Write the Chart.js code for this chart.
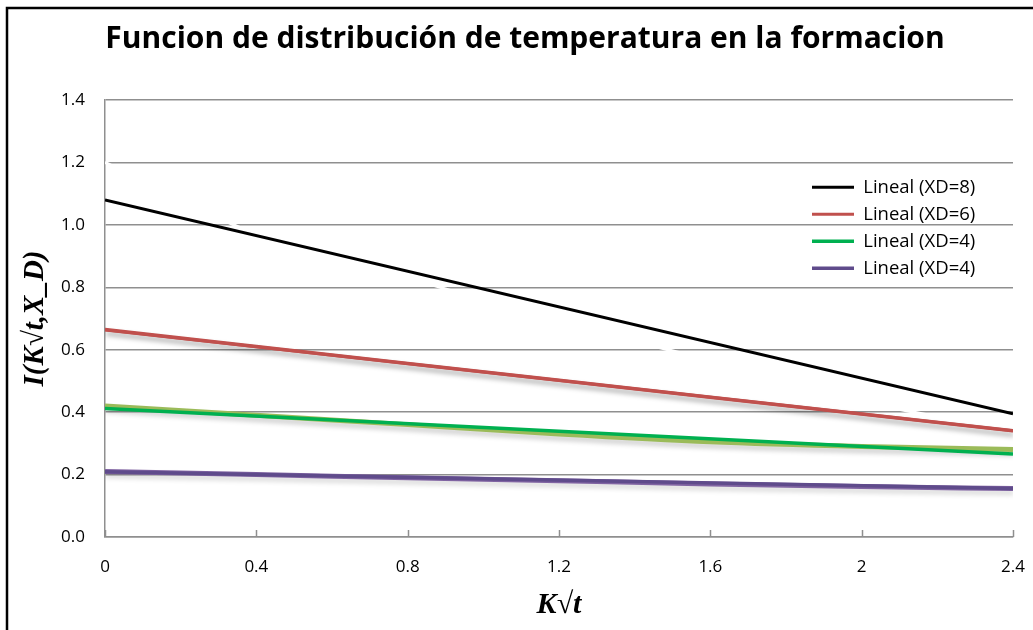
<!DOCTYPE html>
<html>
<head>
<meta charset="utf-8">
<script src="https://cdn.jsdelivr.net/npm/chart.js@4/dist/chart.umd.min.js"></script>
<style>
  html, body { margin: 0; padding: 0; background: #ffffff; }
  #wrap { width: 1033px; height: 630px; }
</style>
</head>
<body>
<div id="wrap"><canvas id="c" width="1033" height="630"></canvas></div>
<script>
// ---- data ----
const xValues = [0, 0.4, 0.8, 1.2, 1.6, 2.0, 2.4];
const xd8Data = [1.2, 0.97, 0.83, 0.69, 0.565, 0.435, 0.34];   // hidden (white) series
const xd6Data = [0.665, 0.61, 0.556, 0.502, 0.448, 0.394, 0.34];
const xd4Data = [0.42, 0.39, 0.36, 0.33, 0.305, 0.29, 0.28];
const xd4bData = [0.21, 0.20, 0.19, 0.18, 0.17, 0.162, 0.155];

const trendX = [0, 2.4];
const trend8 = [1.08, 0.395];
const trend6 = [0.663, 0.34];
const trend4 = [0.412, 0.266];
const trend4b = [0.209, 0.155];

const trendLabels = ['Lineal (XD=8)', 'Lineal (XD=6)', 'Lineal (XD=4)', 'Lineal (XD=4)'];
const xTickValues = [0, 0.4, 0.8, 1.2, 1.6, 2.0, 2.4];
const xTickLabels = ['0', '0.4', '0.8', '1.2', '1.6', '2', '2.4'];
const yTickValues = [0, 0.2, 0.4, 0.6, 0.8, 1.0, 1.2, 1.4];
const yTickLabels = ['0.0', '0.2', '0.4', '0.6', '0.8', '1.0', '1.2', '1.4'];

const chartTitle = 'Funcion de distribución de temperatura en la formacion';
const yTitle = 'I(K√t,X_D)';
const xTitle = 'K√t';

const pts = (xs, ys) => xs.map((x, i) => ({ x: x, y: ys[i] }));

const GRID = '#8f8f8f';

const shadowPlugin = {
  id: 'shadow',
  beforeDatasetDraw(chart, args) {
    const ds = chart.data.datasets[args.index];
    if (ds.shadow) {
      const c = chart.ctx;
      c.save();
      c.shadowColor = 'rgba(0,0,0,' + ds.shadow + ')';
      c.shadowBlur = 5;
      c.shadowOffsetX = 1;
      c.shadowOffsetY = 4;
    }
  },
  afterDatasetDraw(chart, args) {
    if (chart.data.datasets[args.index].shadow) chart.ctx.restore();
  }
};

const innerTicks = {
  id: 'innerTicks',
  afterDatasetsDraw(chart) {
    const sx = chart.scales.x;
    const c = chart.ctx;
    const b = chart.chartArea.bottom;
    c.save();
    c.strokeStyle = GRID;
    c.lineWidth = 1.5;
    sx.ticks.forEach(t => {
      const px = Math.round(sx.getPixelForValue(t.value)) + 0.5;
      c.beginPath();
      c.moveTo(px, b);
      c.lineTo(px, b - 7);
      c.stroke();
    });
    c.restore();
  }
};

const frame = {
  id: 'frame',
  beforeDraw(chart) {
    const c = chart.ctx;
    c.save();
    c.fillStyle = '#ffffff';
    c.fillRect(0, 0, chart.width, chart.height);
    c.strokeStyle = '#000000';
    c.lineWidth = 2.5;
    c.beginPath();
    c.moveTo(7, chart.height);
    c.lineTo(7, 8);
    c.lineTo(chart.width, 8);
    c.stroke();
    c.restore();
  }
};

const legendPos = {
  id: 'legendPos',
  afterLayout(chart) {
    const l = chart.legend;
    if (!l) return;
    const w = l.width, h = 130;
    l.left = 803.5;
    l.top = 169.5;
    l.right = l.left + w;
    l.bottom = l.top + h;
    l.height = h;
  }
};

new Chart(document.getElementById('c'), {
  type: 'line',
  data: {
    datasets: [
      { label: trendLabels[0], data: pts(trendX, trend8), borderColor: '#000000', backgroundColor: '#000000', borderWidth: 3, pointRadius: 0, order: 0 },
      { label: trendLabels[1], data: pts(trendX, trend6), borderColor: '#C0504D', backgroundColor: '#C0504D', borderWidth: 3, pointRadius: 0, order: 0 },
      { label: trendLabels[2], data: pts(trendX, trend4), borderColor: '#00B050', backgroundColor: '#00B050', borderWidth: 3.5, pointRadius: 0, order: 0 },
      { label: trendLabels[3], data: pts(trendX, trend4b), borderColor: '#5F4B8B', backgroundColor: '#5F4B8B', borderWidth: 3.5, pointRadius: 0, order: 0 },
      { label: 'XD=6', data: pts(xValues, xd6Data), borderColor: '#C0504D', borderWidth: 3.5, pointRadius: 0, shadow: 0.35, inLegend: false, order: 1 },
      { label: 'XD=4', data: pts(xValues, xd4Data), borderColor: '#9BBB59', borderWidth: 5, pointRadius: 0, shadow: 0.2, inLegend: false, order: 1, cubicInterpolationMode: 'monotone' },
      { label: 'XD=4 ', data: pts(xValues, xd4bData), borderColor: '#8064A2', borderWidth: 5, pointRadius: 0, shadow: 0.15, inLegend: false, order: 1, cubicInterpolationMode: 'monotone' },
      { label: 'XD=8', data: pts(xValues, xd8Data), borderColor: '#ffffff', borderWidth: 3, pointRadius: 0, inLegend: false, order: 2, cubicInterpolationMode: 'monotone' }
    ]
  },
  options: {
    responsive: false,
    animation: false,
    devicePixelRatio: 1,
    layout: { padding: { left: 24, right: 7, top: 0, bottom: 0 } },
    plugins: {
      tooltip: { enabled: false },
      title: {
        display: true,
        text: chartTitle,
        color: '#000000',
        font: { family: "'Open Sans', sans-serif", size: 30, weight: 'bold', lineHeight: 1.2 },
        padding: { top: 21, bottom: 43 }
      },
      legend: {
        position: 'chartArea',
        align: 'start',
        labels: {
          filter: (item, data) => data.datasets[item.datasetIndex].inLegend !== false,
          usePointStyle: true,
          pointStyle: 'line',
          pointStyleWidth: 42,
          padding: 8.5,
          textAlign: 'left',
          color: '#000000',
          font: { family: "'Open Sans', sans-serif", size: 18.5 }
        }
      }
    },
    scales: {
      x: {
        type: 'linear',
        min: 0,
        max: 2.4,
        afterBuildTicks: s => { s.ticks = xTickValues.map(v => ({ value: v })); },
        afterFit: s => { s.height = 93; s.paddingLeft = 0; s.paddingRight = 20; },
        ticks: {
          callback: (v) => { const i = xTickValues.indexOf(v); return i >= 0 ? xTickLabels[i] : ''; },
          color: '#000000',
          padding: 20,
          maxRotation: 0,
          autoSkip: false,
          font: { family: "'Open Sans', sans-serif", size: 17 }
        },
        grid: { display: true, drawOnChartArea: false, drawTicks: false, color: GRID, lineWidth: 1.5 },
        border: { display: true, color: GRID, width: 1.5 },
        title: {
          display: true,
          text: xTitle,
          color: '#000000',
          font: { family: "'Liberation Serif', serif", size: 30, weight: 'bold', style: 'italic', lineHeight: 1.2 },
          padding: { top: 0, bottom: 7 }
        }
      },
      y: {
        type: 'linear',
        min: 0,
        max: 1.4,
        afterBuildTicks: s => { s.ticks = yTickValues.map(v => ({ value: v })); },
        afterFit: s => { s.width = 81; },
        ticks: {
          callback: (v) => { const i = yTickValues.findIndex(t => Math.abs(t - v) < 1e-9); return i >= 0 ? yTickLabels[i] : ''; },
          color: '#000000',
          padding: 20,
          font: { family: "'Open Sans', sans-serif", size: 17 }
        },
        grid: { color: GRID, lineWidth: 1.5, drawTicks: false },
        border: { display: true, color: GRID, width: 1.5 },
        title: {
          display: true,
          text: yTitle,
          color: '#000000',
          font: { family: "'Liberation Serif', serif", size: 29, weight: 'bold', style: 'italic', lineHeight: 1.2 },
          padding: { top: -6, bottom: 0 }
        }
      }
    }
  },
  plugins: [frame, shadowPlugin, innerTicks, legendPos]
});
</script>
</body>
</html>
